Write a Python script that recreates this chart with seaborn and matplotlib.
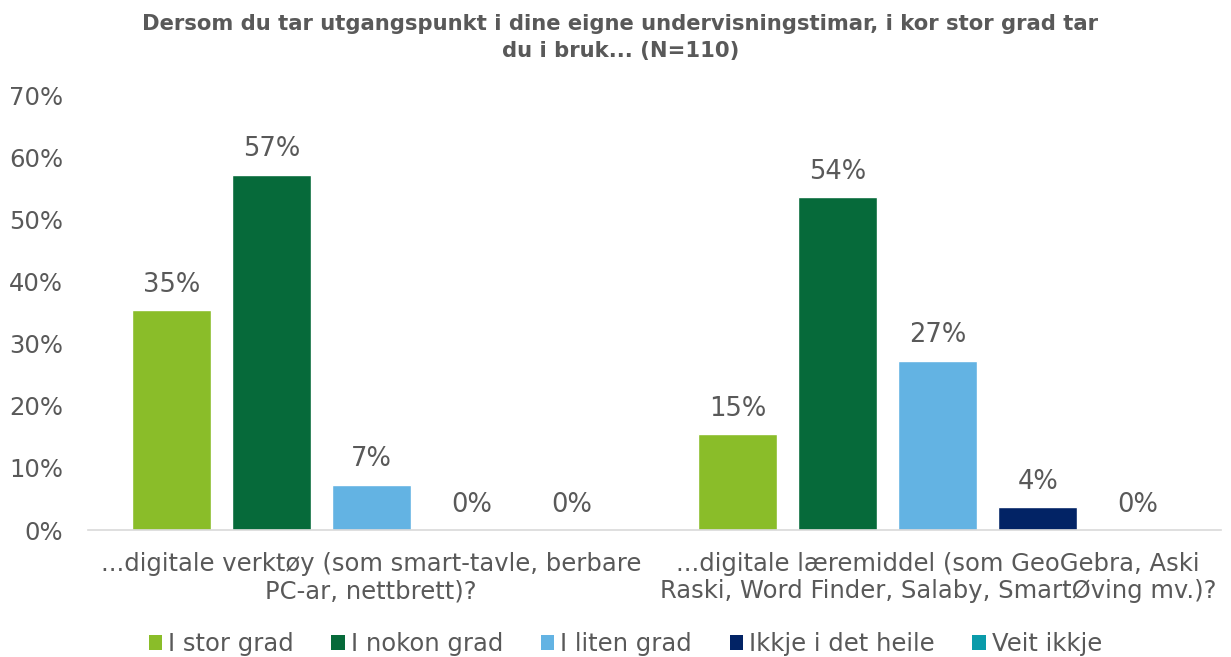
import matplotlib
matplotlib.use("Agg")
import matplotlib.pyplot as plt
import seaborn as sns
import pandas as pd
from matplotlib.patches import Patch

categories = [
    "...digitale verktøy (som smart-tavle, berbare\nPC-ar, nettbrett)?",
    "...digitale læremiddel (som GeoGebra, Aski\nRaski, Word Finder, Salaby, SmartØving mv.)?",
]
series = ["I stor grad", "I nokon grad", "I liten grad", "Ikkje i det heile", "Veit ikkje"]
values_verktoy = [35.45, 57.27, 7.27, 0.0, 0.0]
values_laeremiddel = [15.45, 53.64, 27.27, 3.64, 0.0]
yticks = [0, 10, 20, 30, 40, 50, 60, 70]
title = "Dersom du tar utgangspunkt i dine eigne undervisningstimar, i kor stor grad tar\ndu i bruk... (N=110)"

colors = ["#8ABD29", "#066A3A", "#63B3E3", "#022365", "#0A9BAA"]
textc = "#595959"

rows = []
for cat, vals in zip(categories, [values_verktoy, values_laeremiddel]):
    for s, v in zip(series, vals):
        rows.append({"kategori": cat, "svar": s, "verdi": v})
df = pd.DataFrame(rows)

sns.set_theme(style="white")
plt.rcParams['font.family'] = ['DejaVu Sans']

fig = plt.figure(figsize=(12.31, 6.57), dpi=100)
ax = fig.add_axes([0.0715, 0.1933, 0.9205, 0.6607])

sns.barplot(data=df, x="kategori", y="verdi", hue="svar", order=categories,
            hue_order=series, palette=colors, width=0.883, gap=0.21,
            saturation=1, legend=False, ax=ax)

for container in ax.containers:
    labels = [f"{b.get_height():.0f}%" for b in container]
    ax.bar_label(container, labels=labels, padding=9, fontsize=18.5, color=textc)

ax.set_ylim(0, 70)
ax.set_xlim(-0.5, 1.5)
ax.set_yticks(yticks)
ax.set_yticklabels([f"{t}%" for t in yticks])
ax.set_xlabel("")
ax.set_ylabel("")
ax.tick_params(axis="y", labelsize=17.5, colors=textc, length=0, pad=18)
ax.tick_params(axis="x", labelsize=17.5, colors=textc, length=0, pad=16)
for lab in ax.get_xticklabels():
    lab.set_linespacing(1.15)
for sp in ["top", "right", "left"]:
    ax.spines[sp].set_visible(False)
ax.spines["bottom"].set_color("#D9D9D9")
ax.spines["bottom"].set_linewidth(1.2)
ax.grid(False)

fig.suptitle(title, fontsize=15.2, fontweight="bold", color=textc, x=0.504, y=0.978,
             linespacing=1.4)

handles = [Patch(facecolor=c, edgecolor="none") for c in colors]
fig.legend(handles, series, loc="center", bbox_to_anchor=(0.508, 0.02), ncol=5,
           frameon=False, fontsize=17.5, handlelength=0.55, handleheight=0.55,
           handletextpad=0.25, columnspacing=1.55, labelcolor=textc,
           borderpad=0.0)

fig.savefig("out.png", dpi=100)
